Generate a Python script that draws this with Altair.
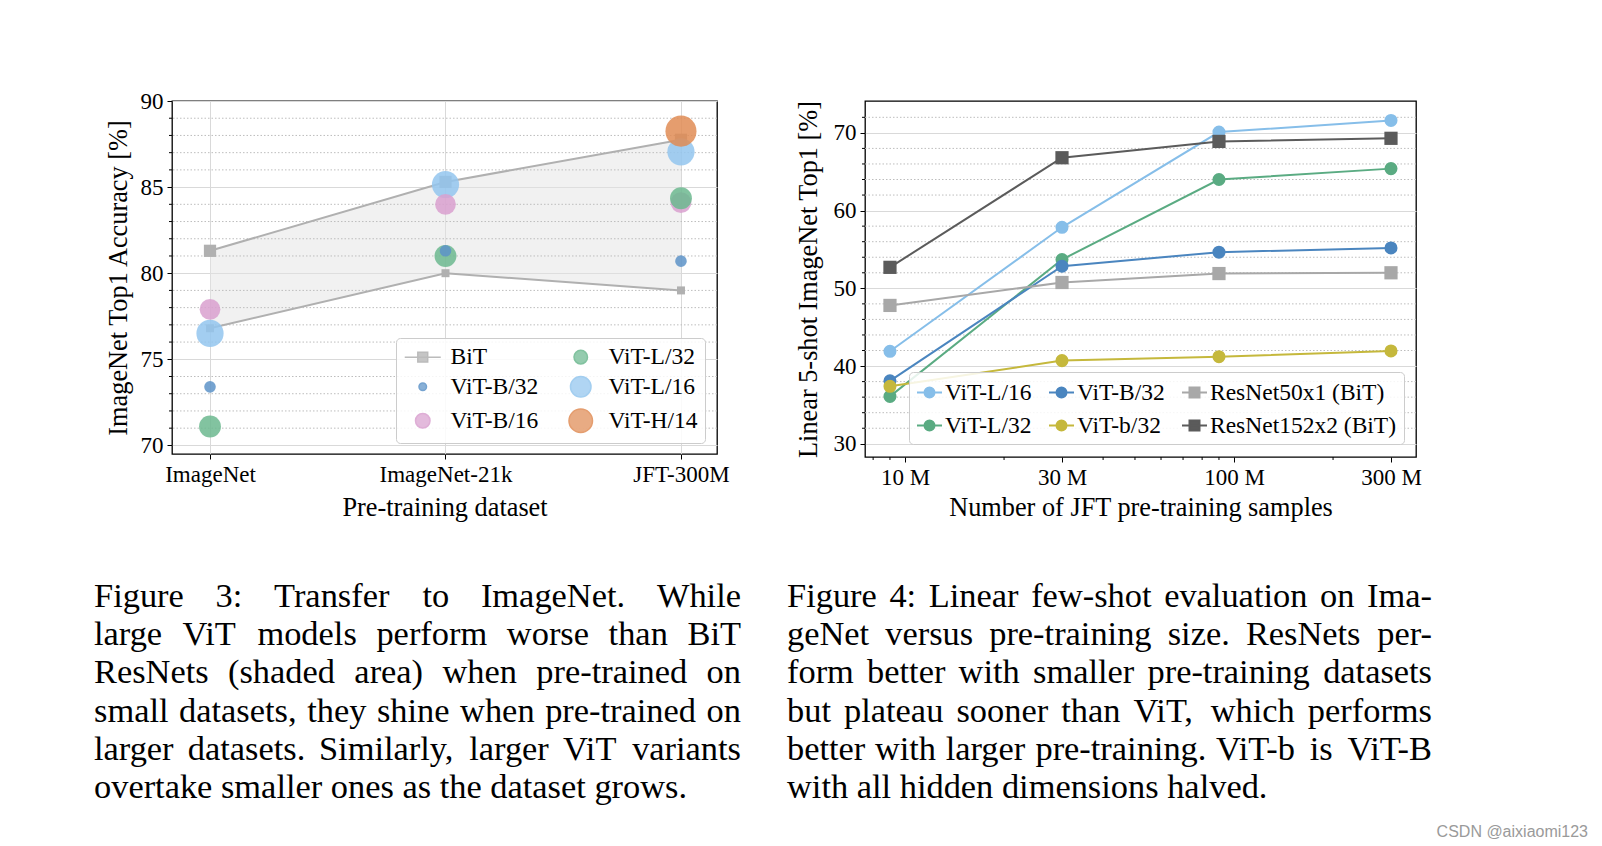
import altair as alt
import pandas as pd

SERIF = "Liberation Serif"

# ---------------- Figure 3: transfer to ImageNet ----------------
datasets = ["ImageNet", "ImageNet-21k", "JFT-300M"]
bit_upper = [81.3, 85.3, 87.75]
bit_lower = [76.8, 80.0, 79.0]
vit_l16 = [76.5, 85.15, 87.05]
vit_h14 = [None, None, 88.25]
vit_b16 = [77.9, 84.0, 84.1]
vit_l32 = [71.1, 81.0, 84.35]
vit_b32 = [73.4, 81.3, 80.7]
fig3_yticks = [70, 75, 80, 85, 90]

# ---------------- Figure 4: few-shot vs pre-training size ----------------
samples = [9e6, 30e6, 90e6, 300e6]
fs_vit_l16 = [41.9, 57.85, 70.1, 71.6]
fs_vit_l32 = [36.1, 53.7, 64.0, 65.4]
fs_vit_b32 = [38.1, 52.85, 54.65, 55.2]
fs_vit_b32_small = [37.4, 40.7, 41.2, 41.95]
fs_r50 = [47.8, 50.75, 51.9, 52.0]
fs_r152 = [52.7, 66.8, 68.9, 69.3]
fig4_yticks = [30, 40, 50, 60, 70]
fig4_xticks = [1e7, 3e7, 1e8, 3e8]
fig4_xminor = [8e6, 9e6, 2e7, 4e7, 5e7, 6e7, 7e7, 8e7, 9e7, 2e8]

caption3 = [
    "Figure 3:  Transfer to ImageNet.  While",
    "large ViT models perform worse than BiT",
    "ResNets (shaded area) when pre-trained on",
    "small datasets, they shine when pre-trained on",
    "larger datasets.  Similarly, larger ViT variants",
    "overtake smaller ones as the dataset grows.",
]
caption4 = [
    "Figure 4: Linear few-shot evaluation on Ima-",
    "geNet versus pre-training size.  ResNets per-",
    "form better with smaller pre-training datasets",
    "but plateau sooner than ViT, which performs",
    "better with larger pre-training. ViT-b is ViT-B",
    "with all hidden dimensions halved.",
]
watermark = "CSDN @aixiaomi123"

# ---------------- styles ----------------
W3, H3 = 545, 353
W4, H4 = 551, 356
LEG_FS = 23.5
fig3_color = {"BiT": "#b0b0b0", "ViT-L/32": "#6cb88f", "ViT-B/32": "#5d93c8",
              "ViT-L/16": "#93c6ee", "ViT-B/16": "#d9a0cf", "ViT-H/14": "#e08c55"}
fig3_point_size = {"ViT-B/32": 135, "ViT-B/16": 430, "ViT-L/32": 480,
                   "ViT-L/16": 740, "ViT-H/14": 965}
# legend marker diameters (px)
fig3_legend_diam = {"ViT-B/32": 9, "ViT-B/16": 16, "ViT-L/32": 15, "ViT-L/16": 22, "ViT-H/14": 25}
LEG3_SYM = 324          # symbol size -> 9 px per path unit
LEG3_UNIT = 9.0
BIT_PATH = "M-2,0H2M-0.55,-0.55H0.55V0.55H-0.55Z"
LINE_CIRCLE = "M-1,0H1M0.4,0A0.4,0.4,0,1,1,-0.4,0A0.4,0.4,0,1,1,0.4,0Z"
LINE_SQUARE = "M-1,0H1M-0.4,-0.4H0.4V0.4H-0.4Z"
LEG4_SYM = 625

fig4_color = {"ViT-L/16": "#86bee9", "ViT-L/32": "#5aab82", "ViT-B/32": "#4a85bf",
              "ViT-b/32": "#c5b83c", "ResNet50x1 (BiT)": "#a8a8a8", "ResNet152x2 (BiT)": "#5b5b5b"}

GRID_MINOR = "#bdbdbd"


def circle_path(r):
    return "M%.3f,0A%.3f,%.3f,0,1,1,%.3f,0A%.3f,%.3f,0,1,1,%.3f,0Z" % (r, r, r, -r, r, r, r)


# Times-compatible advance widths (1/1000 em) for justified captions
TW = dict(zip("abcdefghijklmnopqrstuvwxyz",
              [444, 500, 444, 500, 444, 333, 500, 500, 278, 278, 500, 278, 778,
               500, 500, 500, 500, 333, 389, 278, 500, 500, 722, 500, 500, 444]))
TW.update(dict(zip("ABCDEFGHIJKLMNOPQRSTUVWXYZ",
                   [722, 667, 667, 722, 611, 556, 722, 722, 333, 389, 722, 611, 889,
                    722, 722, 556, 722, 667, 556, 611, 722, 722, 944, 722, 722, 611])))
TW.update({c: 500 for c in "0123456789"})
TW.update({".": 250, ",": 250, ":": 278, "-": 333, "(": 333, ")": 333, "/": 278, " ": 250})


def wlen(s, fs):
    return sum(TW.get(c, 500) for c in s) * fs / 1000.0


def caption_rows(lines, x0, x1, y0, lh, fs):
    left, right = [], []
    for li, line in enumerate(lines):
        y = y0 + li * lh
        words = line.split()
        if li == len(lines) - 1:
            left.append({"x": x0, "y": y, "t": line})
            continue
        widths = [wlen(w, fs) for w in words]
        gap = (x1 - x0 - sum(widths)) / (len(words) - 1)
        x = x0
        for k, w in enumerate(words):
            if k == len(words) - 1:
                right.append({"x": x1, "y": y, "t": w})
            else:
                left.append({"x": x, "y": y, "t": w})
            x += widths[k] + gap
    return pd.DataFrame(left), pd.DataFrame(right)


CAP_FS = 34.4
CAP_LH = 38.2


def caption_layers(lines, x0, x1, y0):
    ldf, rdf = caption_rows(lines, x0, x1, y0, CAP_LH, CAP_FS)
    enc = dict(x=alt.X("x:Q", scale=None, axis=None), y=alt.Y("y:Q", scale=None, axis=None), text="t:N")
    a = alt.Chart(ldf).mark_text(align="left", baseline="alphabetic", font=SERIF,
                                 fontSize=CAP_FS, color="black").encode(**enc)
    b = alt.Chart(rdf).mark_text(align="right", baseline="alphabetic", font=SERIF,
                                 fontSize=CAP_FS, color="black").encode(**enc)
    return [a, b]


def legend_layer(order, colors, shapes, legend, sym_size, opacity, stroke_w):
    return alt.Chart(pd.DataFrame({"model": order})).transform_filter("false").mark_point(
        filled=True, opacity=opacity, strokeWidth=stroke_w).encode(
        fill=alt.Fill("model:N", scale=alt.Scale(domain=order, range=colors), legend=legend),
        stroke=alt.Stroke("model:N", scale=alt.Scale(domain=order, range=colors), legend=legend),
        shape=alt.Shape("model:N", scale=alt.Scale(domain=order, range=shapes), legend=legend),
        size=alt.Size("model:N", scale=alt.Scale(domain=order, range=[sym_size] * len(order)), legend=legend))


# ================= Figure 3 =================
idx = list(range(len(datasets)))
x3 = alt.Scale(domain=[-0.1614, 2.153], nice=False, zero=False)
y3 = alt.Scale(domain=[69.5, 90], nice=False, zero=False)
label_expr3 = "[" + ",".join("'%s'" % d for d in datasets) + "][datum.value]"

bit_df = pd.DataFrame({"i": idx, "up": bit_upper, "lo": bit_lower})
minor3 = pd.DataFrame({"v": [v for v in range(70, 91) if v % 5 != 0]})

vit3 = {"ViT-L/16": vit_l16, "ViT-H/14": vit_h14, "ViT-B/16": vit_b16,
        "ViT-L/32": vit_l32, "ViT-B/32": vit_b32}
rows = []
for k, (name, vals) in enumerate(vit3.items()):
    for i, v in enumerate(vals):
        if v is not None:
            rows.append({"i": i, "acc": v, "model": name, "ord": k, "sz": fig3_point_size[name]})
pts3 = pd.DataFrame(rows)

area3 = alt.Chart(bit_df).mark_area(color="#e4e4e4", opacity=0.5).encode(
    x=alt.X("i:Q", scale=x3, axis=alt.Axis(values=idx, labelExpr=label_expr3, title="Pre-training dataset",
                                            grid=True, titlePadding=8)),
    y=alt.Y("up:Q", scale=y3, axis=alt.Axis(values=fig3_yticks, title="ImageNet Top1 Accuracy [%]",
                                             grid=True, titlePadding=8)),
    y2="lo:Q")
grid3 = alt.Chart(minor3).mark_rule(color=GRID_MINOR, strokeDash=[1.5, 2], strokeWidth=1).encode(
    y=alt.Y("v:Q", scale=y3))
mticks3 = alt.Chart(minor3).mark_rule(color="black", strokeWidth=1).encode(
    y=alt.Y("v:Q", scale=y3), x=alt.value(-3), x2=alt.value(0))
bit_up_line = alt.Chart(bit_df).mark_line(color=fig3_color["BiT"], strokeWidth=2).encode(
    x=alt.X("i:Q", scale=x3), y=alt.Y("up:Q", scale=y3))
bit_lo_line = alt.Chart(bit_df).mark_line(color=fig3_color["BiT"], strokeWidth=2).encode(
    x=alt.X("i:Q", scale=x3), y=alt.Y("lo:Q", scale=y3))
bit_up_sq = alt.Chart(bit_df).mark_square(color=fig3_color["BiT"], size=150, opacity=1).encode(
    x=alt.X("i:Q", scale=x3), y=alt.Y("up:Q", scale=y3))
bit_lo_sq = alt.Chart(bit_df).mark_square(color=fig3_color["BiT"], size=64, opacity=1).encode(
    x=alt.X("i:Q", scale=x3), y=alt.Y("lo:Q", scale=y3))

vit_names = list(vit3.keys())
points3 = alt.Chart(pts3).mark_circle(opacity=0.85).encode(
    x=alt.X("i:Q", scale=x3),
    y=alt.Y("acc:Q", scale=y3),
    color=alt.Color("model:N", scale=alt.Scale(domain=vit_names, range=[fig3_color[m] for m in vit_names]),
                    legend=None),
    size=alt.Size("sz:Q", scale=None),
    order=alt.Order("ord:Q"))

# legend entries fill column by column
leg3_order = ["BiT", "ViT-B/32", "ViT-B/16", "ViT-L/32", "ViT-L/16", "ViT-H/14"]
leg3_shapes = [BIT_PATH if m == "BiT" else circle_path((fig3_legend_diam[m] / 2 - 0.75) / LEG3_UNIT)
               for m in leg3_order]
leg3 = alt.Legend(orient="none", legendX=224, legendY=237, columns=2, title=None,
                  labelFont=SERIF, labelFontSize=LEG_FS, labelColor="black", labelLimit=0,
                  symbolStrokeWidth=1.5, symbolOpacity=0.85, symbolSize=LEG3_SYM,
                  symbolOffset=8, labelOffset=16, columnPadding=22, rowPadding=4, padding=7,
                  fillColor="rgba(255,255,255,0.85)", strokeColor="#cccccc", cornerRadius=4)
legend3 = legend_layer(leg3_order, [fig3_color[m] for m in leg3_order], leg3_shapes, leg3, LEG3_SYM, 0.85, 1.5)

anchor = alt.Chart(pd.DataFrame({"a": [0]})).mark_rule(strokeOpacity=0, strokeWidth=0).encode(
    x=alt.value(-171), x2=alt.value(-171), y=alt.value(-100), y2=alt.value(-99))

fig3 = alt.layer(area3, grid3, mticks3, bit_up_line, bit_lo_line, bit_up_sq, bit_lo_sq, points3, legend3,
                 *caption_layers(caption3, -78, 569, 506), anchor).properties(width=W3, height=H3)

# ================= Figure 4 =================
x4 = alt.Scale(type="log", domain=[7.557e6, 3.574e8], nice=False)
y4 = alt.Scale(domain=[28.3, 74.1], nice=False, zero=False)
fig4_series = {"ViT-L/16": fs_vit_l16, "ViT-L/32": fs_vit_l32, "ViT-B/32": fs_vit_b32,
               "ViT-b/32": fs_vit_b32_small, "ResNet50x1 (BiT)": fs_r50, "ResNet152x2 (BiT)": fs_r152}
order4 = list(fig4_series.keys())            # legend order (column by column)
draw4 = list(reversed(order4))               # colour-scale domain (kept distinct from legend domain)
rows = []
for name, vals in fig4_series.items():
    for s, v in zip(samples, vals):
        rows.append({"n": s, "acc": v, "model": name, "kind": "sq" if name.startswith("ResNet") else "ci"})
df4 = pd.DataFrame(rows)
color4 = alt.Color("model:N", scale=alt.Scale(domain=draw4, range=[fig4_color[m] for m in draw4]), legend=None)

minor4 = pd.DataFrame({"v": [v for v in range(30, 74, 2) if v % 10 != 0]})
# first layer carries the axes (dotted minor grid drawn under the data lines)
grid4 = alt.Chart(minor4).mark_rule(color=GRID_MINOR, strokeDash=[1.5, 2], strokeWidth=1).encode(
    y=alt.Y("v:Q", scale=y4, axis=alt.Axis(values=fig4_yticks, title="Linear 5-shot ImageNet Top1 [%]",
                                            grid=True, titlePadding=11)))
mticks4y = alt.Chart(minor4).mark_rule(color="black", strokeWidth=1).encode(
    y=alt.Y("v:Q", scale=y4), x=alt.value(-3), x2=alt.value(0))
mticks4x = alt.Chart(pd.DataFrame({"v": fig4_xminor})).mark_rule(color="black", strokeWidth=1).encode(
    x=alt.X("v:Q", scale=x4, axis=alt.Axis(values=fig4_xticks,
                                            labelExpr="format(datum.value/1e6,'d') + ' M'",
                                            title="Number of JFT pre-training samples", grid=False,
                                            titlePadding=5)),
    y=alt.value(H4), y2=alt.value(H4 + 3))

lines4 = alt.Chart(df4).mark_line(strokeWidth=2).encode(
    x=alt.X("n:Q", scale=x4), y=alt.Y("acc:Q", scale=y4), color=color4)
circ4 = alt.Chart(df4).transform_filter("datum.kind == 'ci'").mark_circle(size=170, opacity=1).encode(
    x=alt.X("n:Q", scale=x4), y=alt.Y("acc:Q", scale=y4), color=color4)
sq4 = alt.Chart(df4).transform_filter("datum.kind == 'sq'").mark_square(size=175, opacity=1).encode(
    x=alt.X("n:Q", scale=x4), y=alt.Y("acc:Q", scale=y4), color=color4)

leg4_shapes = [LINE_SQUARE if m.startswith("ResNet") else LINE_CIRCLE for m in order4]
leg4 = alt.Legend(orient="none", legendX=44, legendY=271, columns=3, title=None,
                  labelFont=SERIF, labelFontSize=LEG_FS, labelColor="black", labelLimit=0,
                  symbolStrokeWidth=2, symbolSize=LEG4_SYM, symbolOpacity=1, labelOffset=2,
                  columnPadding=13, rowPadding=8, padding=7,
                  fillColor="rgba(255,255,255,0.85)", strokeColor="#cccccc", cornerRadius=4)
legend4 = legend_layer(order4, [fig4_color[m] for m in order4], leg4_shapes, leg4, LEG4_SYM, 1, 2)

wm = alt.Chart(pd.DataFrame({"x": [723], "y": [736], "t": [watermark]})).mark_text(
    align="right", baseline="alphabetic", font="Liberation Sans", fontSize=16, color="#9a9a9a").encode(
    x=alt.X("x:Q", scale=None, axis=None), y=alt.Y("y:Q", scale=None, axis=None), text="t:N")

fig4 = alt.layer(grid4, mticks4y, mticks4x, lines4, circ4, sq4, legend4,
                 *caption_layers(caption4, -78, 567, 506), wm).properties(width=W4, height=H4)

chart = alt.hconcat(fig3, fig4, spacing=148, bounds="flush").resolve_scale(
    color="independent", fill="independent", stroke="independent", shape="independent", size="independent"
).resolve_legend(
    fill="independent", stroke="independent", shape="independent", size="independent"
).properties(
    padding=0, background="white"
).configure_view(stroke="black", strokeWidth=1.3).configure_axis(
    labelFont=SERIF, labelFontSize=23, labelColor="black", titleFont=SERIF, titleFontSize=26.3,
    titleFontWeight="normal", titleColor="black", tickColor="black", tickSize=5, tickWidth=1,
    domain=False, gridColor="#d9d9d9", gridWidth=1, labelPadding=4, labelFlush=False
)

chart.save("out.html", embed_options={"renderer": "svg", "actions": False})
